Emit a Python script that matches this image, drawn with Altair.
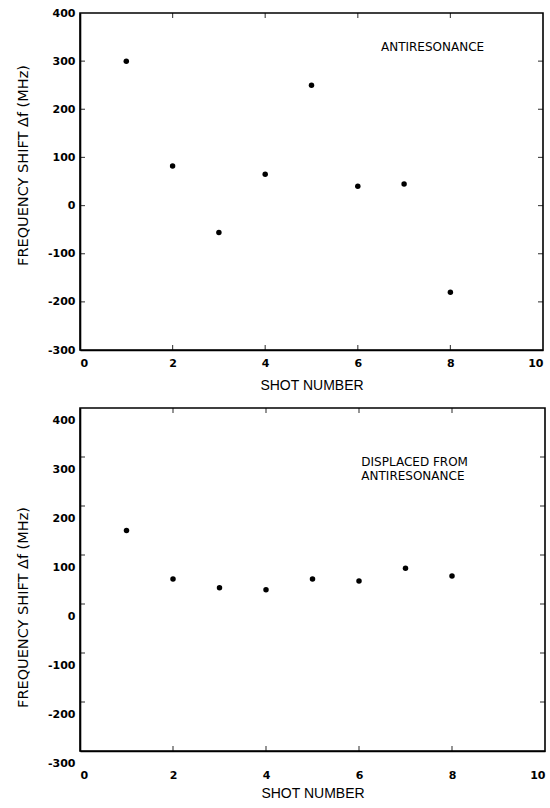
import altair as alt
import pandas as pd

# ---- data ----
shots = [1, 2, 3, 4, 5, 6, 7, 8]
shift_antiresonance = [300, 82, -56, 65, 250, 40, 45, -180]
shift_displaced = [150, 51, 33, 29, 51, 47, 73, 57]

x_tick_values = [0, 2, 4, 6, 8, 10]
y_tick_values = [-300, -200, -100, 0, 100, 200, 300, 400]
inner_x_ticks = [2, 4, 6, 8]
inner_y_ticks = [-200, -100, 0, 100, 200, 300]

top_notes = ["ANTIRESONANCE"]
top_note_x = 6.5
top_note_y = [330]
bottom_notes = ["DISPLACED FROM", "ANTIRESONANCE"]
bottom_note_x = 6.05
bottom_note_y = [290, 261]

X_DOMAIN = [0, 10]
Y_DOMAIN = [-300, 400]
LABEL_FONT = "DejaVu Sans"
TITLE_FONT = "Liberation Sans"


def panel(values, notes, note_x, note_ys, width, height,
          x_label_pad, x_title_pad, y_label_offset, y_title_y):
    xs = alt.Scale(domain=X_DOMAIN, nice=False, zero=False)
    ys = alt.Scale(domain=Y_DOMAIN, nice=False, zero=False)

    df = pd.DataFrame({"shot": shots, "shift": values})
    x_enc = alt.X(
        "shot:Q", scale=xs,
        axis=alt.Axis(values=x_tick_values, title="SHOT NUMBER",
                      titleFont=TITLE_FONT, titleFontSize=14,
                      labelPadding=x_label_pad, titlePadding=x_title_pad,
                      labelExpr="'' + datum.value"),
    )
    y_enc = alt.Y(
        "shift:Q", scale=ys,
        axis=alt.Axis(values=y_tick_values, title="FREQUENCY SHIFT \u0394f (MHz)",
                      titleFont=LABEL_FONT, titleFontSize=14.5,
                      labelPadding=5, titlePadding=17, labelOffset=y_label_offset,
                      titleY=y_title_y,
                      labelExpr="'' + datum.value"),
    )
    points = alt.Chart(df).mark_circle(size=30, color="black", opacity=1).encode(
        x=x_enc, y=y_enc
    )

    # inward tick marks on all four sides of the frame
    side_ticks = pd.DataFrame({
        "shot": [X_DOMAIN[0]] * len(inner_y_ticks) + [X_DOMAIN[1]] * len(inner_y_ticks),
        "shift": inner_y_ticks + inner_y_ticks,
    })
    tb_ticks = pd.DataFrame({
        "shot": inner_x_ticks + inner_x_ticks,
        "shift": [Y_DOMAIN[0]] * len(inner_x_ticks) + [Y_DOMAIN[1]] * len(inner_x_ticks),
    })
    h_ticks = alt.Chart(side_ticks).mark_tick(
        orient="horizontal", size=10, thickness=1.2, color="black", clip=True
    ).encode(x=alt.X("shot:Q", scale=xs), y=alt.Y("shift:Q", scale=ys))
    v_ticks = alt.Chart(tb_ticks).mark_tick(
        orient="vertical", size=10, thickness=1.2, color="black", clip=True
    ).encode(x=alt.X("shot:Q", scale=xs), y=alt.Y("shift:Q", scale=ys))

    note_df = pd.DataFrame({"shot": [note_x] * len(notes), "shift": note_ys, "text": notes})
    text = alt.Chart(note_df).mark_text(
        align="left", baseline="middle", font=LABEL_FONT, fontSize=12, color="black"
    ).encode(x=alt.X("shot:Q", scale=xs), y=alt.Y("shift:Q", scale=ys), text="text:N")

    return alt.layer(points, h_ticks, v_ticks, text).properties(width=width, height=height)


top = panel(shift_antiresonance, top_notes, top_note_x, top_note_y, 463, 337,
            x_label_pad=7, x_title_pad=10, y_label_offset=0, y_title_y=152)
bottom = panel(shift_displaced, bottom_notes, bottom_note_x, bottom_note_y, 465, 343,
               x_label_pad=18, x_title_pad=6, y_label_offset=12, y_title_y=199)

chart = alt.vconcat(top, bottom, spacing=58, bounds="flush").properties(
    padding={"left": 14, "top": 6, "right": 0, "bottom": 0},
    background="white",
).configure_view(
    stroke="black", strokeWidth=1.6
).configure_axis(
    grid=False, ticks=False, domainColor="black", domainWidth=1.6,
    labelFont=LABEL_FONT, labelFontWeight="bold", labelFontSize=11, labelColor="black",
    titleFontWeight="normal", titleColor="black",
)

chart.save("out.html", embed_options={"renderer": "svg", "actions": False})
